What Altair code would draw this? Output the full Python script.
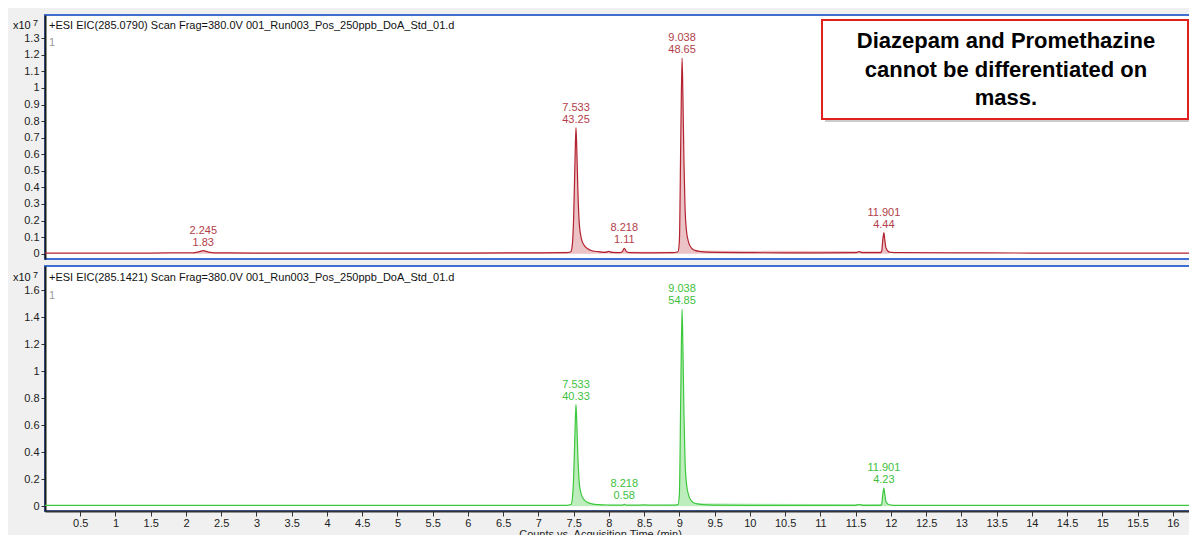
import altair as alt
import pandas as pd

FONT = "Liberation Sans"

# ---- Top trace: +ESI EIC(285.0790)  (counts x10^7) ----
top_t = [0.0, 0.5, 1.0, 1.5, 2.0, 2.10, 2.18, 2.245, 2.31, 2.40, 3.0, 4.0, 5.0, 6.0, 7.0, 7.40,
         7.46, 7.48, 7.50, 7.52, 7.533, 7.545, 7.56, 7.58, 7.61, 7.65, 7.70, 7.76, 7.85, 7.95,
         8.00, 8.04, 8.15, 8.19, 8.218, 8.25, 8.30, 8.60, 8.90, 8.98, 9.00, 9.02, 9.038, 9.05,
         9.065, 9.08, 9.10, 9.13, 9.17, 9.22, 9.30, 9.50, 10.0, 10.5, 11.0, 11.50, 11.55, 11.60,
         11.85, 11.87, 11.885, 11.901, 11.915, 11.93, 11.96, 11.98, 12.10, 13.0, 14.0, 15.0,
         16.0, 16.4]
top_i = [0.004, 0.004, 0.004, 0.004, 0.005, 0.005, 0.011, 0.018, 0.011, 0.005, 0.004, 0.004, 0.004,
         0.004, 0.005, 0.006, 0.012, 0.05, 0.22, 0.58, 0.76, 0.62, 0.38, 0.18, 0.09, 0.05, 0.03,
         0.018, 0.012, 0.008, 0.014, 0.008, 0.006, 0.012, 0.032, 0.012, 0.006, 0.005, 0.006,
         0.012, 0.08, 0.70, 1.18, 0.95, 0.55, 0.28, 0.14, 0.07, 0.035, 0.02, 0.013, 0.008, 0.006,
         0.005, 0.005, 0.006, 0.012, 0.006, 0.006, 0.015, 0.08, 0.127, 0.08, 0.035, 0.015, 0.01,
         0.006, 0.005, 0.004, 0.004, 0.004, 0.004]
top_rt = [2.245, 7.533, 8.218, 9.038, 11.901]
top_h = [0.018, 0.76, 0.032, 1.18, 0.127]
top_area = ["1.83", "43.25", "1.11", "48.65", "4.44"]
top_win = [(2.10, 2.40), (7.46, 7.76), (8.19, 8.25), (8.98, 9.22), (11.87, 11.98)]

# ---- Bottom trace: +ESI EIC(285.1421) ----
bot_t = [0.0, 0.5, 1.0, 1.5, 2.0, 2.5, 3.0, 4.0, 5.0, 6.0, 7.0, 7.40, 7.46, 7.48, 7.50, 7.52,
         7.533, 7.545, 7.56, 7.58, 7.61, 7.65, 7.70, 7.76, 7.85, 8.00, 8.15, 8.19, 8.218, 8.25,
         8.30, 8.51, 8.60, 8.90, 8.98, 9.00, 9.02, 9.038, 9.05, 9.065, 9.08, 9.10, 9.13, 9.17,
         9.22, 9.30, 9.50, 10.0, 10.5, 11.0, 11.50, 11.55, 11.60, 11.85, 11.87, 11.885, 11.901,
         11.915, 11.93, 11.96, 11.98, 12.10, 13.0, 14.0, 15.0, 16.0, 16.4]
bot_i = [0.006, 0.006, 0.006, 0.006, 0.006, 0.007, 0.006, 0.006, 0.006, 0.006, 0.006, 0.007,
         0.012, 0.05, 0.22, 0.57, 0.753, 0.61, 0.37, 0.17, 0.085, 0.048, 0.028, 0.018, 0.012,
         0.009, 0.008, 0.009, 0.014, 0.009, 0.008, 0.010, 0.008, 0.008, 0.012, 0.09, 0.85, 1.46,
         1.17, 0.68, 0.34, 0.17, 0.085, 0.04, 0.022, 0.014, 0.009, 0.007, 0.007, 0.007, 0.007,
         0.013, 0.007, 0.007, 0.016, 0.085, 0.135, 0.085, 0.036, 0.016, 0.011, 0.007, 0.006,
         0.006, 0.006, 0.006, 0.006]
bot_rt = [7.533, 8.218, 9.038, 11.901]
bot_h = [0.753, 0.014, 1.46, 0.135]
bot_area = ["40.33", "0.58", "54.85", "4.23"]
bot_win = [(7.46, 7.76), (8.19, 8.25), (8.98, 9.22), (11.87, 11.98)]

top_ticks = [0, 0.1, 0.2, 0.3, 0.4, 0.5, 0.6, 0.7, 0.8, 0.9, 1, 1.1, 1.2, 1.3]
bot_ticks = [0, 0.2, 0.4, 0.6, 0.8, 1, 1.2, 1.4, 1.6]
x_ticks = [0.5, 1, 1.5, 2, 2.5, 3, 3.5, 4, 4.5, 5, 5.5, 6, 6.5, 7, 7.5, 8, 8.5, 9, 9.5, 10,
           10.5, 11, 11.5, 12, 12.5, 13, 13.5, 14, 14.5, 15, 15.5, 16]

header_top = "+ESI EIC(285.0790) Scan Frag=380.0V 001_Run003_Pos_250ppb_DoA_Std_01.d"
header_bot = "+ESI EIC(285.1421) Scan Frag=380.0V 001_Run003_Pos_250ppb_DoA_Std_01.d"
note_lines = ["Diazepam and Promethazine", "cannot be differentiated on", "mass."]

W = 1156
XDOM = [0, 16.4]


def txt(s, x, y, size=11, color="#111", align="left", weight="normal", baseline="middle"):
    return alt.Chart(pd.DataFrame({"s": [s]})).mark_text(
        align=align, baseline=baseline, fontSize=size, font=FONT, color=color,
        fontWeight=weight
    ).encode(x=alt.value(x), y=alt.value(y), text="s:N")


def panel(t, i, rt, h, area, win, line_c, fill_c, lab_c, header, ydom, yticks, height,
          show_x, hy, oney, note=False):
    df = pd.DataFrame({"t": t, "i": i})
    peak = []
    for tv in t:
        pid = ""
        for k, (a, b) in enumerate(win):
            if a <= tv <= b:
                pid = "p%d" % k
        peak.append(pid)
    df["peak"] = peak
    dfa = df[df["peak"] != ""]

    if show_x:
        xaxis = alt.Axis(values=x_ticks, format="~g", tickSize=5, labelPadding=1,
                         title="Counts vs. Acquisition Time (min)", titlePadding=0,
                         titleFontWeight="normal", titleFontSize=11, titleFont=FONT,
                         titleColor="#222", domainColor="#333", domainWidth=2,
                         tickColor="#333", labelColor="#222", labelFont=FONT,
                         labelFontSize=11, grid=False, labelFlush=False,
                         titleX=555)
    else:
        xaxis = None
    x = alt.X("t:Q", scale=alt.Scale(domain=XDOM, nice=False, zero=False), axis=xaxis)
    y = alt.Y("i:Q", scale=alt.Scale(domain=ydom, nice=False, zero=False),
              axis=alt.Axis(values=yticks, format="~g", tickSize=4, labelPadding=2,
                            title=None, domainColor="#1a1a1a", domainWidth=2,
                            tickColor="#333", labelColor="#222", labelFont=FONT,
                            labelFontSize=11, grid=False))

    fill = alt.Chart(dfa).mark_area(color=fill_c, interpolate="monotone").encode(
        x=x, y=y, detail="peak:N")
    line = alt.Chart(df).mark_line(color=line_c, strokeWidth=1.2,
                                   interpolate="monotone").encode(x=x, y=y)
    lab = pd.DataFrame({"t": rt, "i": h,
                        "label": ["%.3f\n%s" % (r, a) for r, a in zip(rt, area)]})
    labels = alt.Chart(lab).mark_text(
        lineBreak="\n", baseline="bottom", dy=-15, fontSize=11, font=FONT, color=lab_c,
        lineHeight=12
    ).encode(x=x, y=y, text="label:N")

    layers = [fill, line, labels,
              txt(header, 4, hy),
              txt("1", 4, oney, color="#999"),
              txt("x10", -32, hy),
              txt("7", -12, hy - 3, size=9)]
    if note:
        box = pd.DataFrame({"a": [1]})
        shadow = alt.Chart(box).mark_rect(color="#9a9a9a", opacity=0.5).encode(
            x=alt.value(780), x2=alt.value(1146), y=alt.value(8), y2=alt.value(107))
        rect = alt.Chart(box).mark_rect(fill="white", stroke="#e0201c",
                                        strokeWidth=2).encode(
            x=alt.value(777), x2=alt.value(1143), y=alt.value(5), y2=alt.value(104))
        layers += [shadow, rect]
        for k, s in enumerate(note_lines):
            layers.append(txt(s, 961, 26 + 28.5 * k, size=22, color="#000",
                              align="center", weight="bold"))
    return alt.layer(*layers).properties(width=W, height=height)


top = panel(top_t, top_i, top_rt, top_h, top_area, top_win, "#b3222f", "#ebc2c5",
            "#b23e4a", header_top, [-0.032, 1.44], top_ticks, 244, False, 11, 28, note=True)
bot = panel(bot_t, bot_i, bot_rt, bot_h, bot_area, bot_win, "#3cc83c", "#bdedbd",
            "#3dbf3d", header_bot, [-0.035, 1.78], bot_ticks, 245, True, 12, 30)

chart = alt.vconcat(top, bot, spacing=5).properties(
    padding={"left": 4, "top": 6, "right": -16, "bottom": 0}
).configure(background="#f0f0f0").configure_view(
    fill="white", stroke="#3f6fd1", strokeWidth=2)

chart.save("out.html", embed_options={"renderer": "svg", "actions": False})
